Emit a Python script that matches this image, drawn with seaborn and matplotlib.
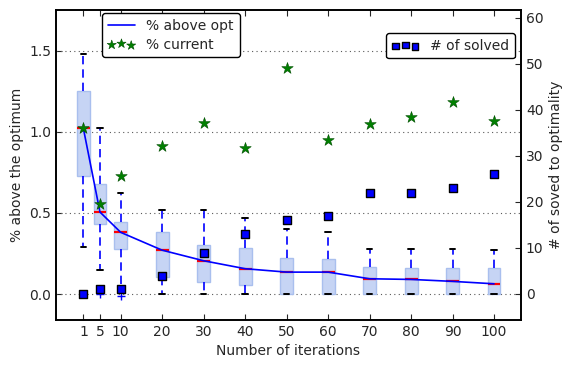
import matplotlib
matplotlib.use("Agg")
import matplotlib.pyplot as plt
import seaborn as sns

# ---- data ----
iterations = [1, 5, 10, 20, 30, 40, 50, 60, 70, 80, 90, 100]
xtick_labels = ["1", "5", "10", "20", "30", "40", "50", "60", "70", "80", "90", "100"]

# box statistics (% above the optimum)
whis_lo = [0.29, 0.15, 0.05, 0.0, 0.0, 0.0, 0.0, 0.0, 0.0, 0.0, 0.0, 0.0]
q1 = [0.73, 0.43, 0.277, 0.105, 0.074, 0.055, 0.0, 0.0, 0.0, 0.0, 0.0, 0.0]
median = [1.02, 0.505, 0.38, 0.27, 0.205, 0.156, 0.135, 0.135, 0.094, 0.09, 0.078, 0.063]
q3 = [1.25, 0.68, 0.443, 0.38, 0.30, 0.283, 0.224, 0.213, 0.166, 0.16, 0.16, 0.16]
whis_hi = [1.48, 1.02, 0.62, 0.52, 0.52, 0.47, 0.40, 0.38, 0.28, 0.28, 0.28, 0.27]
fliers = [[], [0.0, 0.03], [-0.015], [], [], [], [], [], [], [], [], []]

pct_above_opt = [1.02, 0.505, 0.38, 0.27, 0.205, 0.156, 0.135, 0.135, 0.094, 0.09, 0.078, 0.063]
pct_current = [1.025, 0.556, 0.73, 0.909, 1.053, 0.899, 1.39, 0.946, 1.05, 1.092, 1.186, 1.069]
n_solved = [0, 1, 1, 4, 9, 13, 16, 17, 22, 22, 23, 26]

# ---- style ----
sns.set_style("white")
plt.rcParams["font.family"] = ["DejaVu Sans"]
plt.rcParams["font.size"] = 10

fig = plt.figure(figsize=(5.73, 3.70), dpi=100)
ax = fig.add_axes([56 / 573, 50 / 370, 465 / 573, 310 / 370])

# boxes
stats = []
for i in range(len(iterations)):
    stats.append(dict(whislo=whis_lo[i], q1=q1[i], med=median[i], q3=q3[i],
                      whishi=whis_hi[i], fliers=fliers[i]))
ax.bxp(stats, positions=iterations, widths=3.1, capwidths=1.3, patch_artist=True,
       boxprops=dict(facecolor="#c6d4f4", edgecolor="#a9bfee", linewidth=1),
       whiskerprops=dict(color="blue", linestyle=(0, (5, 3)), linewidth=1.2),
       capprops=dict(color="black", linewidth=1.4),
       medianprops=dict(color="red", linewidth=1.6),
       flierprops=dict(marker="+", markeredgecolor="blue", markersize=6,
                       linestyle="none"),
       manage_ticks=False, zorder=2)

sns.lineplot(x=iterations, y=pct_above_opt, ax=ax, color="blue", lw=1.2,
             label="% above opt", zorder=3)
sns.scatterplot(x=iterations, y=pct_current, ax=ax, marker="*", s=75,
                color="green", edgecolor="#004d00", linewidth=0.4,
                label="% current", zorder=4)

ax.set_xlim(-5.6, 106.5)
ax.set_ylim(-0.16, 1.75)
ax.set_xticks(iterations)
ax.set_xticklabels(xtick_labels)
ax.set_yticks([0.0, 0.5, 1.0, 1.5])
ax.set_yticklabels(["0.0", "0.5", "1.0", "1.5"])
for yv in [0.0, 0.5, 1.0, 1.5]:
    ax.axhline(yv, color="0.35", linestyle=(0, (1, 3)), linewidth=0.8, zorder=1)
ax.set_xlabel("Number of iterations")
ax.set_ylabel("% above the optimum")
ax.tick_params(axis="x", direction="in", top=True, bottom=True, length=4, width=0.8)
ax.tick_params(axis="y", direction="in", left=True, right=False, length=4, width=0.8)
for sp in ax.spines.values():
    sp.set_color("black")
    sp.set_linewidth(1.2)

leg1 = ax.legend(loc="upper left", bbox_to_anchor=(0.099, 0.99), borderaxespad=0,
                 scatterpoints=3, scatteryoffsets=[0.375, 0.5, 0.3125],
                 markerscale=0.8, handlelength=2.0, handletextpad=0.8,
                 labelspacing=0.35, fancybox=True, framealpha=1, edgecolor="black")
leg1.get_frame().set_linewidth(1.0)

# right axis
ax2 = ax.twinx()
sns.scatterplot(x=iterations, y=n_solved, ax=ax2, marker="s", s=36,
                color="blue", edgecolor="black", linewidth=1.0,
                label="# of solved", zorder=5)
ax2.set_ylim(-5.65, 61.7)
ax2.set_yticks([0, 10, 20, 30, 40, 50, 60])
ax2.set_ylabel("# of soved to optimality")
ax2.tick_params(axis="y", direction="in", right=True, length=4, width=0.8)
ax2.set_xlim(-5.6, 106.5)
for sp in ax2.spines.values():
    sp.set_color("black")
    sp.set_linewidth(1.2)

leg2 = ax2.legend(loc="upper right", bbox_to_anchor=(0.987, 0.925), borderaxespad=0,
                  scatterpoints=3, scatteryoffsets=[0.375, 0.5, 0.3125],
                  markerscale=0.8, handlelength=2.0, handletextpad=0.8,
                  fancybox=True, framealpha=1, edgecolor="black")
leg2.get_frame().set_linewidth(1.0)

fig.savefig("out.png", dpi=100)
